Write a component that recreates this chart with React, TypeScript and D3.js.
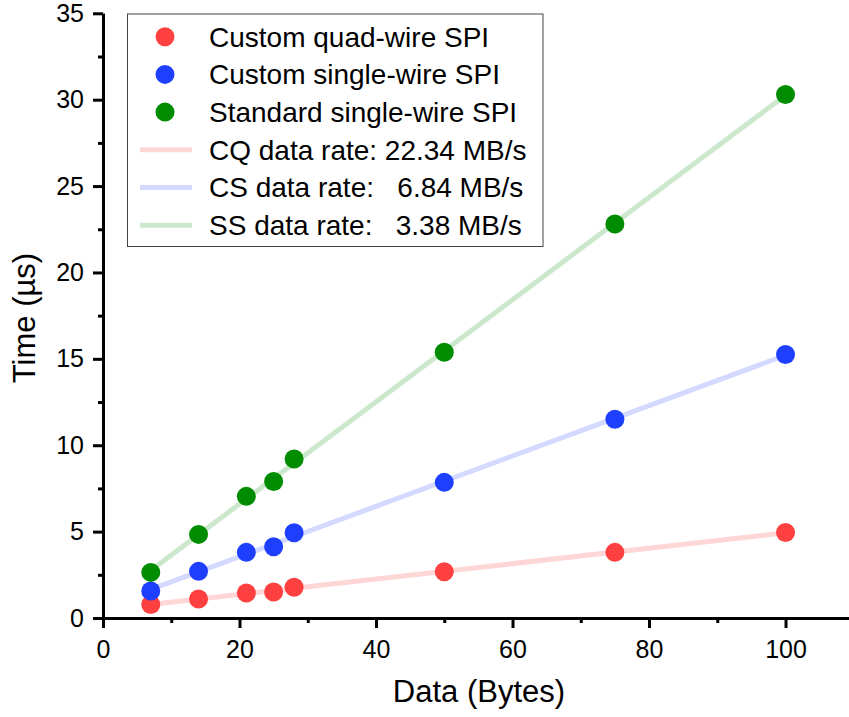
import { useEffect, useRef } from "react";
import * as d3 from "d3";

// Data sizes (bytes) and measured transfer times (µs)
const dataBytes = [7, 14, 21, 25, 28, 50, 75, 100];
const quadTimes = [0.78, 1.1, 1.45, 1.5, 1.78, 2.68, 3.8, 4.95];
const customSingleTimes = [1.56, 2.7, 3.8, 4.12, 4.93, 7.85, 11.5, 15.25];
const standardSingleTimes = [2.64, 4.84, 7.04, 7.9, 9.2, 15.38, 22.8, 30.3];

const seriesNames = [
  "Custom quad-wire SPI",
  "Custom single-wire SPI",
  "Standard single-wire SPI",
];
const fitNames = [
  "CQ data rate: 22.34 MB/s",
  "CS data rate:   6.84 MB/s",
  "SS data rate:   3.38 MB/s",
];
const pointColors = ["#ff4040", "#1f3fff", "#008c00"];
const lineColors = ["#ffd6d6", "#d4daff", "#cce8cc"];

const xMajorTicks = [0, 20, 40, 60, 80, 100];
const xMinorTicks = [10, 30, 50, 70, 90];
const yMajorTicks = [0, 5, 10, 15, 20, 25, 30, 35];
const yMinorTicks = [2.5, 7.5, 12.5, 17.5, 22.5, 27.5, 32.5];

// least-squares fit of y on x
function linearFit(xs: number[], ys: number[]) {
  const mx = d3.mean(xs) as number;
  const my = d3.mean(ys) as number;
  const sxy = d3.sum(xs, (x, i) => (x - mx) * (ys[i] - my));
  const sxx = d3.sum(xs, (x) => (x - mx) * (x - mx));
  const slope = sxy / sxx;
  return { slope, intercept: my - slope * mx };
}

export default function App() {
  const ref = useRef<SVGSVGElement>(null);

  useEffect(() => {
    document.body.style.margin = "0";
    const svg = d3.select(ref.current);
    svg.selectAll("*").remove();

    const font = "Liberation Sans, Arial, sans-serif";
    const x = d3.scaleLinear().domain([0, 109.3]).range([103, 849]);
    const y = d3.scaleLinear().domain([0, 35]).range([618, 13.3]);

    const allSeries = [quadTimes, customSingleTimes, standardSingleTimes];

    // fit lines
    allSeries.forEach((ys, i) => {
      const { slope, intercept } = linearFit(dataBytes, ys);
      const x0 = d3.min(dataBytes) as number;
      const x1 = d3.max(dataBytes) as number;
      svg
        .append("line")
        .attr("x1", x(x0))
        .attr("y1", y(intercept + slope * x0))
        .attr("x2", x(x1))
        .attr("y2", y(intercept + slope * x1))
        .attr("stroke", lineColors[i])
        .attr("stroke-width", 5);
    });

    // scatter points
    allSeries.forEach((ys, i) => {
      svg
        .append("g")
        .selectAll("circle")
        .data(dataBytes)
        .join("circle")
        .attr("cx", (d) => x(d))
        .attr("cy", (_d, j) => y(ys[j]))
        .attr("r", 9.5)
        .attr("fill", pointColors[i]);
    });

    // axes
    const styleAxis = (g: any) => {
      g.select(".domain").attr("stroke-width", 3);
      g.selectAll(".tick line").attr("stroke-width", 3);
      g.selectAll("text")
        .attr("font-family", font)
        .attr("font-size", 25)
        .attr("fill", "#000");
    };

    svg
      .append("g")
      .attr("transform", `translate(0,${y(0)})`)
      .call(
        d3.axisBottom(x).tickValues(xMinorTicks).tickSize(5).tickFormat(() => "").tickSizeOuter(0)
      )
      .call(styleAxis);
    svg
      .append("g")
      .attr("transform", `translate(0,${y(0)})`)
      .call(d3.axisBottom(x).tickValues(xMajorTicks).tickSize(10).tickPadding(12).tickSizeOuter(0))
      .call(styleAxis);

    svg
      .append("g")
      .attr("transform", `translate(${x(0)},0)`)
      .call(
        d3.axisLeft(y).tickValues(yMinorTicks).tickSize(5).tickFormat(() => "").tickSizeOuter(0)
      )
      .call(styleAxis);
    svg
      .append("g")
      .attr("transform", `translate(${x(0)},0)`)
      .call(d3.axisLeft(y).tickValues(yMajorTicks).tickSize(10).tickPadding(9).tickSizeOuter(0))
      .call(styleAxis);

    // axis titles
    svg
      .append("text")
      .attr("x", 479)
      .attr("y", 702)
      .attr("text-anchor", "middle")
      .attr("font-family", font)
      .attr("font-size", 31)
      .text("Data (Bytes)");
    svg
      .append("text")
      .attr("transform", "translate(35,318) rotate(-90)")
      .attr("text-anchor", "middle")
      .attr("font-family", font)
      .attr("font-size", 31)
      .text("Time (µs)");

    // legend
    const legend = svg.append("g");
    legend
      .append("rect")
      .attr("x", 127.5)
      .attr("y", 14)
      .attr("width", 415.5)
      .attr("height", 232.5)
      .attr("fill", "#fff")
      .attr("stroke", "#444")
      .attr("stroke-width", 1);

    const rowY = (i: number) => 36.7 + i * 37.7;
    seriesNames.forEach((name, i) => {
      legend
        .append("circle")
        .attr("cx", 165)
        .attr("cy", rowY(i))
        .attr("r", 9.5)
        .attr("fill", pointColors[i]);
      legend
        .append("text")
        .attr("x", 209)
        .attr("y", rowY(i) + 9.8)
        .attr("font-family", font)
        .attr("font-size", 28)
        .text(name);
    });
    fitNames.forEach((name, i) => {
      const cy = rowY(i + 3);
      legend
        .append("line")
        .attr("x1", 140)
        .attr("x2", 192)
        .attr("y1", cy)
        .attr("y2", cy)
        .attr("stroke", lineColors[i])
        .attr("stroke-width", 5);
      legend
        .append("text")
        .attr("x", 209)
        .attr("y", cy + 9.8)
        .attr("font-family", font)
        .attr("font-size", 28)
        .style("white-space", "pre")
        .text(name);
    });
  }, []);

  return <svg ref={ref} width={849} height={717} style={{ display: "block" }} />;
}
